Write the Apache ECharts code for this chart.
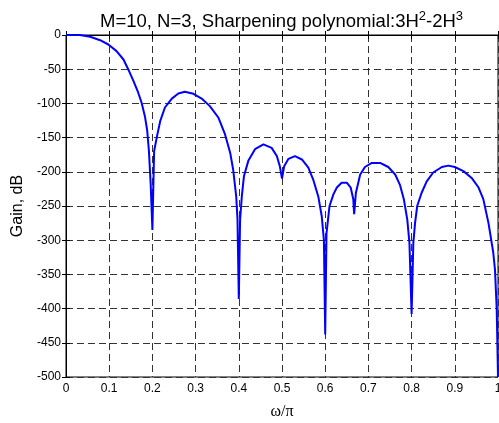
<!DOCTYPE html>
<html>
<head>
<meta charset="utf-8">
<script src="https://cdn.jsdelivr.net/npm/echarts@6/dist/echarts.min.js"></script>
<style>
html, body { margin: 0; padding: 0; background: #fff; }
#main { width: 499px; height: 423px; }
</style>
</head>
<body>
<div id="main"></div>
<script>
// omega/pi and gain in dB
var freq = [0, 0.032, 0.056, 0.079, 0.098, 0.117, 0.133, 0.144, 0.156, 0.167, 0.175, 0.183, 0.188, 0.192, 0.196, 0.2,
    0.204, 0.21, 0.218, 0.229, 0.245, 0.26, 0.275, 0.295, 0.314, 0.333, 0.353, 0.368, 0.38, 0.387, 0.394, 0.397, 0.4,
    0.403, 0.407, 0.412, 0.422, 0.4375, 0.457, 0.476, 0.488, 0.495, 0.5, 0.505, 0.515, 0.53, 0.546, 0.561, 0.572, 0.584, 0.592, 0.597, 0.6,
    0.603, 0.61, 0.619, 0.627, 0.638, 0.65, 0.659, 0.665, 0.667, 0.671, 0.681, 0.692, 0.708, 0.727, 0.746, 0.762, 0.773, 0.782, 0.79, 0.795, 0.8,
    0.804, 0.808, 0.813, 0.823, 0.835, 0.85, 0.87, 0.885, 0.9, 0.92, 0.939, 0.955, 0.966, 0.978, 0.989, 0.993, 0.997, 1];
var gain = [0, 0, -2.6, -7.6, -13.9, -23.6, -35.8, -50, -67, -84, -99, -120, -140, -170, -218, -285,
    -170, -150, -126, -106, -93, -85.5, -83, -86, -93, -104, -121, -145, -172, -197, -236, -270, -386,
    -270, -236, -206, -184, -167, -160, -165, -177, -192, -210, -192, -181, -177, -182, -194, -211, -236, -265, -300, -438,
    -290, -250, -233, -223, -216, -216, -223, -240, -262, -231, -204, -193, -187, -187, -193, -204, -219, -240, -270, -304, -408,
    -304, -275, -250, -231, -214, -201, -193, -191, -193, -199, -209, -223, -240, -275, -318, -343, -400, -500];

var xTicks = [0, 0.1, 0.2, 0.3, 0.4, 0.5, 0.6, 0.7, 0.8, 0.9, 1];
var yTicks = [0, -50, -100, -150, -200, -250, -300, -350, -400, -450, -500];

var points = [];
for (var i = 0; i < freq.length; i++) {
    points.push([freq[i], gain[i]]);
}

var gridLine = { color: '#333', width: 1, type: [7, 4] };
var labelFont = { fontFamily: 'Liberation Sans', fontSize: 12, color: '#000' };

var chart = echarts.init(document.getElementById('main'), null, { renderer: 'canvas' });
chart.setOption({
    animation: false,
    title: {
        text: 'M=10, N=3, Sharpening polynomial:3H{sup|2}-2H{sup|3}',
        left: 95,
        top: 5,
        textStyle: {
            fontFamily: 'Liberation Sans', fontSize: 18.5, fontWeight: 'normal', color: '#000', lineHeight: 23,
            rich: {
                sup: { fontFamily: 'Liberation Sans', fontSize: 13, color: '#000', verticalAlign: 'top', lineHeight: 23 }
            }
        }
    },
    grid: { left: 66, right: 1, top: 35, bottom: 46, show: true, borderColor: '#000', borderWidth: 1, outerBoundsMode: 'none', containLabel: false },
    xAxis: [
        {
            type: 'value', min: 0, max: 1, interval: 0.1,
            name: '\u03c9/\u03c0', nameLocation: 'middle', nameGap: 27,
            nameTextStyle: { fontFamily: 'Liberation Serif', fontSize: 16, color: '#000' },
            axisLine: { lineStyle: { color: '#000' } },
            axisTick: { inside: true, length: 4, lineStyle: { color: '#000' } },
            axisLabel: Object.assign({ margin: 6, formatter: function (v) { return String(Math.round(v * 10) / 10); } }, labelFont),
            splitLine: { show: true, lineStyle: gridLine }
        },
        {
            type: 'value', min: 0, max: 1, interval: 0.1, position: 'top',
            axisLine: { lineStyle: { color: '#000' } },
            axisTick: { inside: true, length: 4, lineStyle: { color: '#000' } },
            axisLabel: { show: false },
            splitLine: { show: false }
        }
    ],
    yAxis: [
        {
            type: 'value', min: -500, max: 0, interval: 50,
            name: 'Gain, dB', nameLocation: 'middle', nameGap: 40,
            nameTextStyle: { fontFamily: 'Liberation Sans', fontSize: 16, color: '#000' },
            axisLine: { show: true, lineStyle: { color: '#000' } },
            axisTick: { show: true, inside: true, length: 4, lineStyle: { color: '#000' } },
            axisLabel: Object.assign({ margin: 5 }, labelFont),
            splitLine: { show: true, lineStyle: gridLine }
        },
        {
            type: 'value', min: -500, max: 0, interval: 50, position: 'right',
            axisLine: { show: true, lineStyle: { color: '#000' } },
            axisTick: { show: true, inside: true, length: 4, lineStyle: { color: '#000' } },
            axisLabel: { show: false },
            splitLine: { show: false }
        }
    ],
    series: [
        {
            type: 'line',
            data: points,
            showSymbol: false,
            symbol: 'none',
            clip: true,
            lineStyle: { color: '#0000ff', width: 2 }
        }
    ]
});
</script>
</body>
</html>
